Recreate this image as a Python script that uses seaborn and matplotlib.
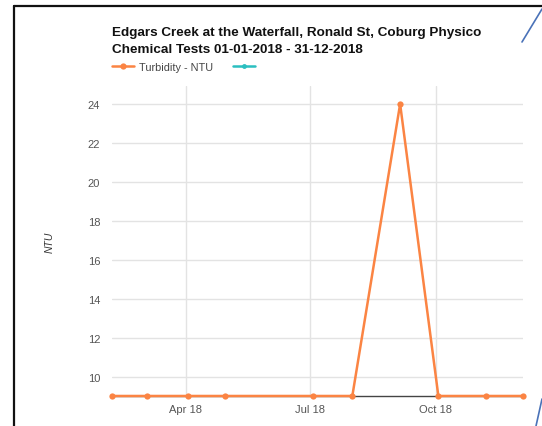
import pandas as pd
import numpy as np
import seaborn as sns
import matplotlib.pyplot as plt
import matplotlib.dates as mdates
from matplotlib.lines import Line2D

# data
sample_dates = ["2018-02-06", "2018-03-04", "2018-04-03", "2018-04-30", "2018-07-03",
                "2018-08-01", "2018-09-05", "2018-10-03", "2018-11-07", "2018-12-04"]
turbidity_ntu = [9, 9, 9, 9, 9, 9, 24, 9, 9, 9]
series_labels = ["Turbidity - NTU", " "]
title = "Edgars Creek at the Waterfall, Ronald St, Coburg Physico\nChemical Tests 01-01-2018 - 31-12-2018"

df = pd.DataFrame({"date": pd.to_datetime(sample_dates), "value": turbidity_ntu})

sns.set_style("white")
plt.rcParams['font.family'] = ['Liberation Sans', 'DejaVu Sans']

orange = "#fb8443"
teal = "#2bbfc0"

fig = plt.figure(figsize=(5.42, 4.27), dpi=100)
ax = fig.add_axes([0.2066, 0.0703, 0.7584, 0.7257])

sns.lineplot(data=df, x="date", y="value", ax=ax, color=orange, linewidth=1.8,
             marker="o", markersize=4.5, markeredgewidth=0, label=series_labels[0],
             clip_on=False, zorder=3)
# second (empty) series shown only in the legend
ax.plot([], [], color=teal, linewidth=1.8, marker="o", markersize=3.5,
        markeredgewidth=0, label=series_labels[1])

ax.set_xlim(df["date"].min(), df["date"].max())
ax.set_ylim(9, 24.92)
ax.set_yticks(np.arange(10, 25, 2))

ax.xaxis.set_major_locator(mdates.MonthLocator(bymonth=[4, 7, 10]))
ax.xaxis.set_major_formatter(mdates.DateFormatter("%b %y"))

ax.grid(True, color="#e3e3e3", linewidth=1)
ax.set_axisbelow(True)
for side in ["top", "right", "left"]:
    ax.spines[side].set_visible(False)
ax.spines["bottom"].set_color("#444444")
ax.spines["bottom"].set_linewidth(1)
ax.tick_params(axis="both", length=0, labelsize=8, colors="#555555")
ax.tick_params(axis="y", pad=8.5)
ax.tick_params(axis="x", pad=6)

ax.set_xlabel("")
ax.set_ylabel("NTU", fontsize=7.5, fontstyle="italic", color="#333333")
ax.yaxis.set_label_coords(-0.139, 0.5)

fig.text(0.2066, 0.937, title, fontsize=9.7, fontweight="bold", color="#111111",
         va="top", ha="left", linespacing=1.55)

ax.legend(loc="center left", bbox_to_anchor=(0.0, 1.062), ncol=2, frameon=False,
          fontsize=7.8, labelcolor="#444444", handlelength=2.0, handletextpad=0.45,
          columnspacing=1.9, borderaxespad=0, borderpad=0)

# screenshot frame and stray lines
fig.add_artist(Line2D([14/542, 14/542], [0, 1 - 7/427], color="#111111", linewidth=1.6))
fig.add_artist(Line2D([14/542, 1], [1 - 7/427, 1 - 7/427], color="#111111", linewidth=1.6))
fig.add_artist(Line2D([522/542, 1], [1 - 43/427, 1 - 10/427], color="#4a72b8", linewidth=1.2))
fig.add_artist(Line2D([536/542, 1], [0, 1 - 400/427], color="#4a72b8", linewidth=1.2))

fig.savefig("out.png", dpi=100)
